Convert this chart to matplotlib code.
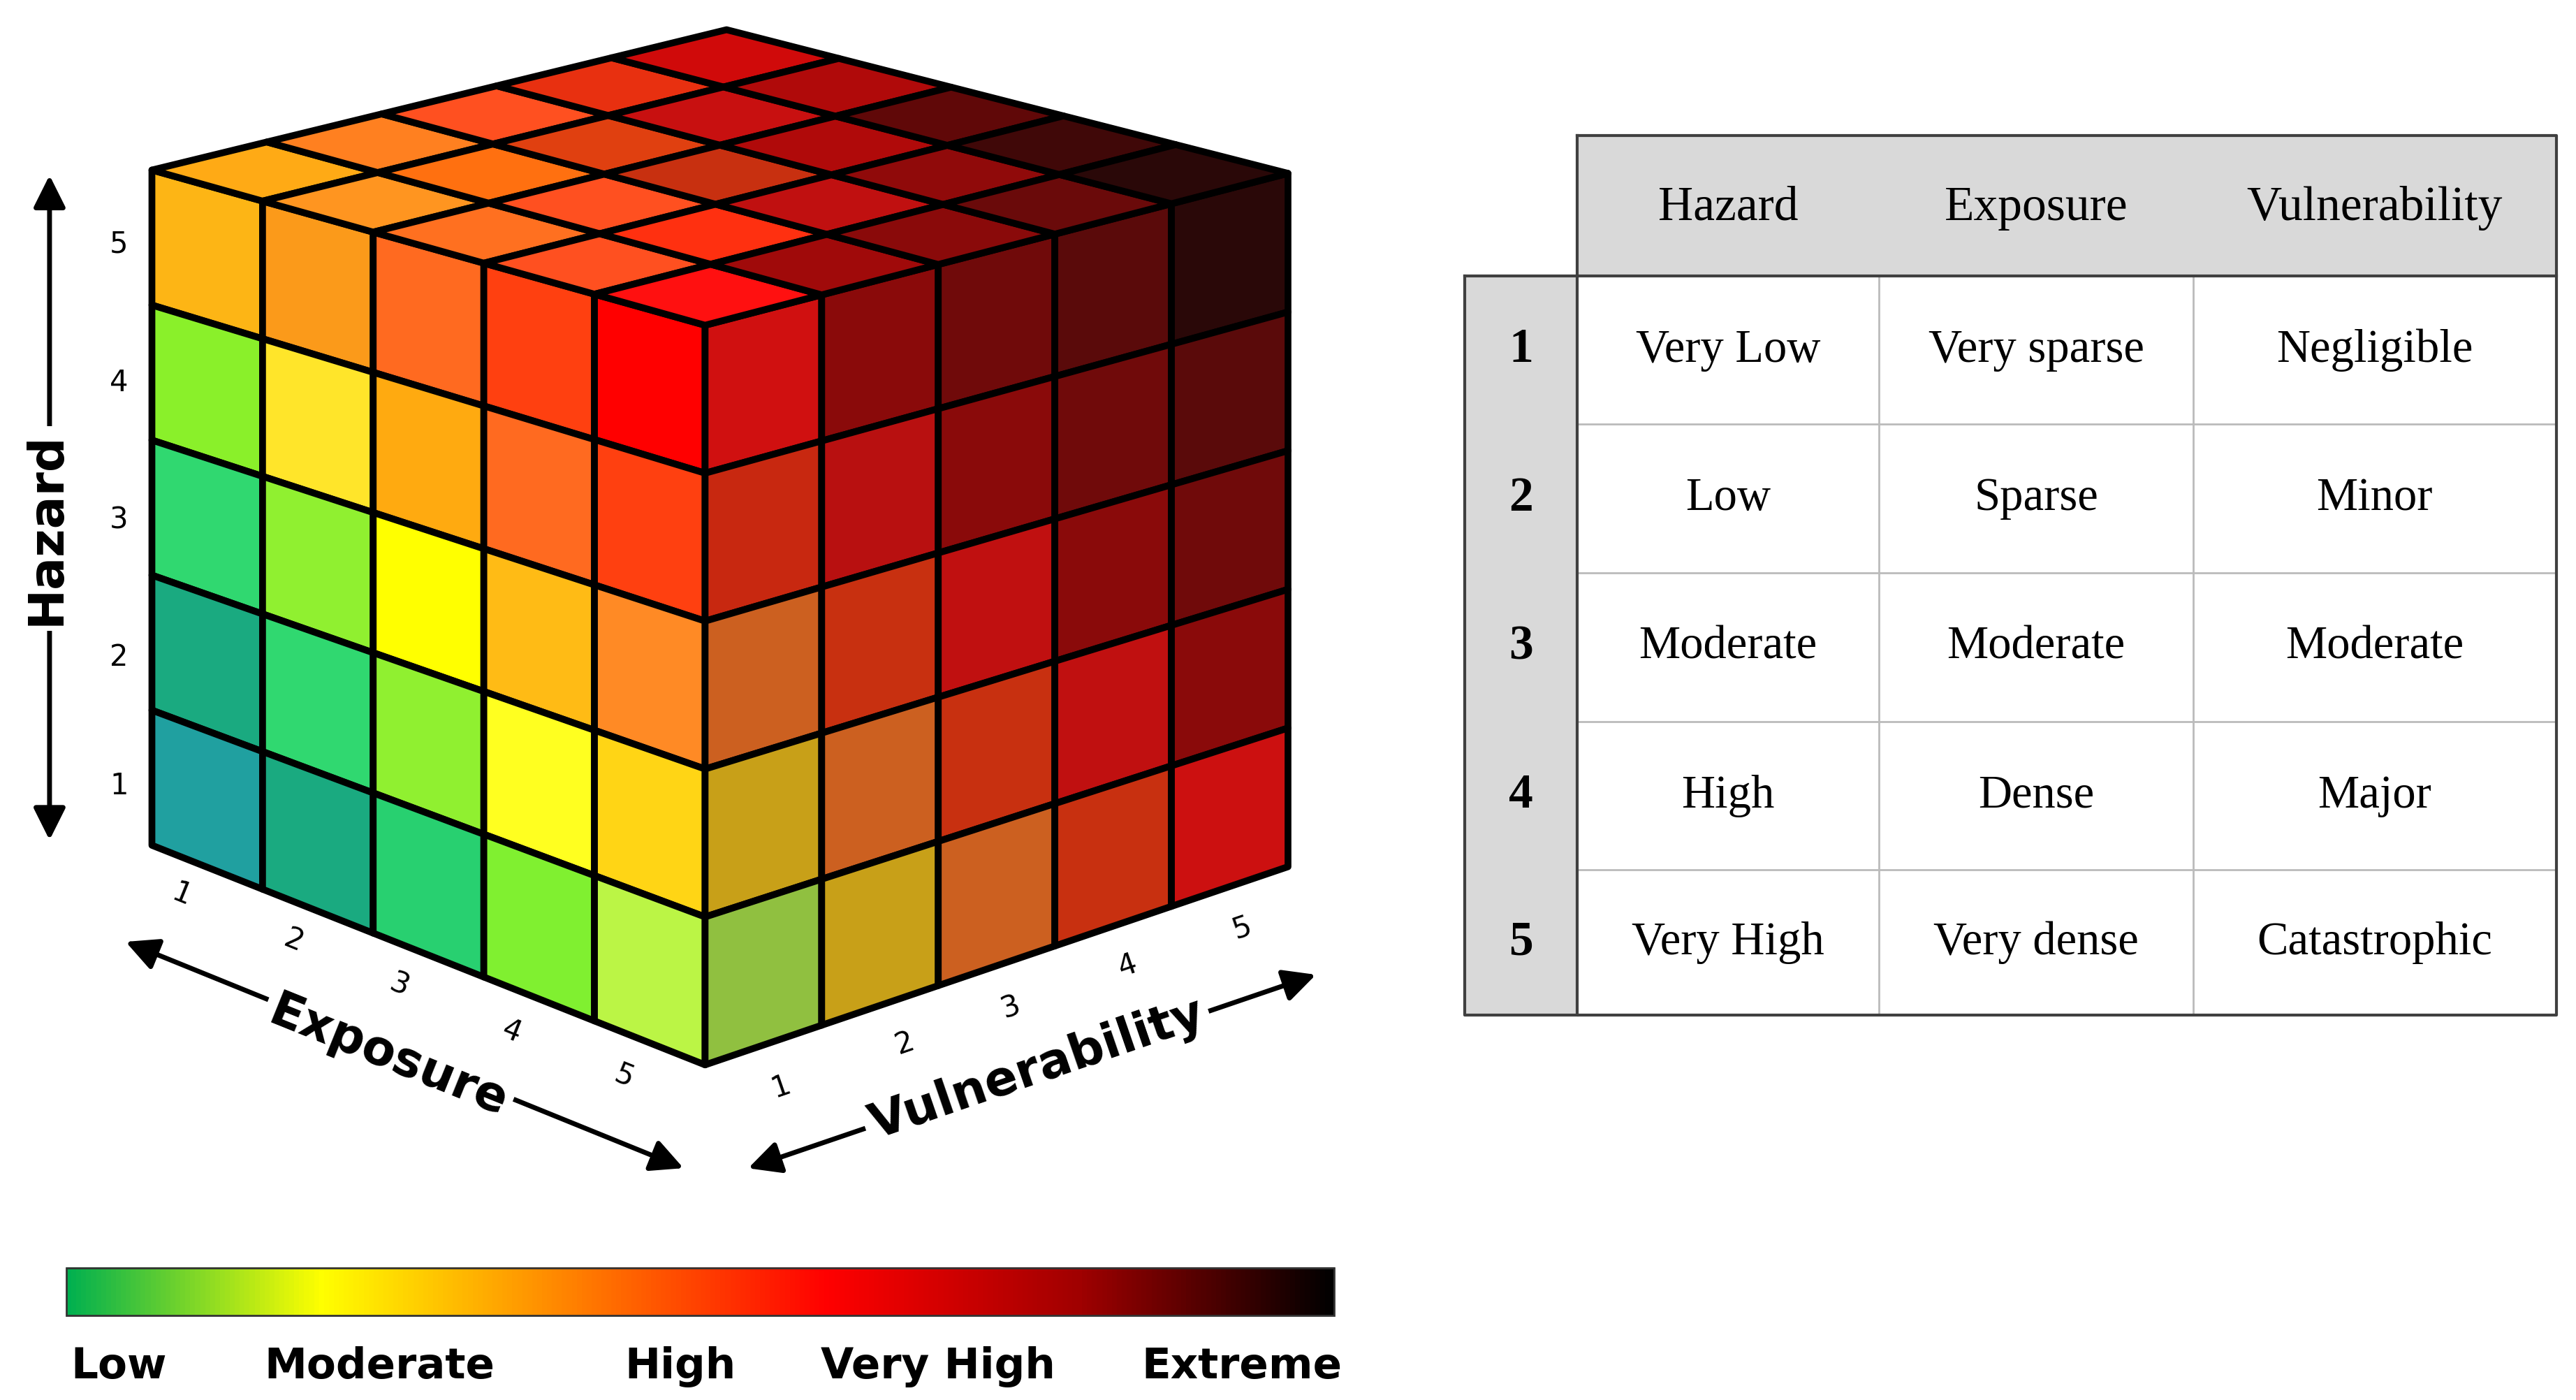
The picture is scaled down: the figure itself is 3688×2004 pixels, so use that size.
import numpy as np
import matplotlib
matplotlib.use("Agg")
import matplotlib.pyplot as plt
from matplotlib.patches import Polygon, Rectangle, FancyArrowPatch
from matplotlib.colors import LinearSegmentedColormap

# ---- data ----
levels = [1, 2, 3, 4, 5]
# left face: rows hazard 5..1, cols exposure 1..5 (vulnerability = 1)
left_face = [
    ["#FDB515", "#FB9A1A", "#FF6A20", "#FF4010", "#FF0000"],
    ["#8AF02A", "#FFE52A", "#FFAA10", "#FF6A20", "#FF4010"],
    ["#30D870", "#90F030", "#FFFF00", "#FFBB15", "#FF8A25"],
    ["#1AAA80", "#30D870", "#90F030", "#FFFF20", "#FFD515"],
    ["#20A0A0", "#1AAA80", "#28D070", "#80F030", "#BBF545"],
]
# right face: rows hazard 5..1, cols vulnerability 1..5 (exposure = 5)
right_face = [
    ["#D01010", "#8A0A0A", "#700A0A", "#5A0A0A", "#2A0808"],
    ["#C82810", "#B81010", "#8A0A0A", "#700A0A", "#5A0A0A"],
    ["#CC6020", "#C83010", "#C01010", "#8A0A0A", "#700A0A"],
    ["#C8A018", "#CC6020", "#C83010", "#C01010", "#8A0A0A"],
    ["#90C040", "#C8A018", "#CC6020", "#C83010", "#CC1010"],
]
# top face: rows exposure 1..5, cols vulnerability 1..5 (hazard = 5)
top_face = [
    ["#FFAA15", "#FF8020", "#FF5020", "#E83010", "#D00A0A"],
    ["#FF9520", "#FF7010", "#E04010", "#C81010", "#B00A0A"],
    ["#FF7020", "#FF5020", "#C83010", "#B00A0A", "#600808"],
    ["#FF5020", "#FF3010", "#C01010", "#900A0A", "#400808"],
    ["#FF1010", "#A00A0A", "#8A0A0A", "#6A0A0A", "#2A0808"],
]
scale_labels = ["Low", "Moderate", "High", "Very High", "Extreme"]
scale_colors = ["#00B050", "#FFFF00", "#FF8000", "#FF0000", "#A00000", "#000000"]
table_header = ["Hazard", "Exposure", "Vulnerability"]
table_rows = [
    ["Very Low", "Very sparse", "Negligible"],
    ["Low", "Sparse", "Minor"],
    ["Moderate", "Moderate", "Moderate"],
    ["High", "Dense", "Major"],
    ["Very High", "Very dense", "Catastrophic"],
]

fig = plt.figure(figsize=(36.88, 20.04), dpi=100)
ax = fig.add_axes([0, 0, 1, 1])
ax.set_xlim(0, 1560); ax.set_ylim(848, 0); ax.axis("off")

def bil(q, u, v):
    # q: (tl, tr, br, bl); u along left->right, v along top->bottom
    tl, tr, br, bl = [np.array(p, float) for p in q]
    top = tl + (tr - tl) * u
    bot = bl + (br - bl) * u
    return top + (bot - top) * v

def draw_face(q, colors):
    n = len(colors)
    for r in range(n):
        for c in range(len(colors[r])):
            pts = [bil(q, c / 5, r / 5), bil(q, (c + 1) / 5, r / 5),
                   bil(q, (c + 1) / 5, (r + 1) / 5), bil(q, c / 5, (r + 1) / 5)]
            ax.add_patch(Polygon(pts, closed=True, facecolor=colors[r][c],
                                 edgecolor="black", lw=7, joinstyle="round"))

A = (92, 103); B = (427, 197); C = (780, 105); D = (440, 18)
E = (92, 512); F = (427, 645); G = (780, 525)
draw_face((A, B, F, E), left_face)
draw_face((B, C, G, F), right_face)
# top: tl=A(E1,V1?) -> arrange rows exposure 1..5 from A-D edge to B-C edge
# quad: tl = D-side? rows along A->B direction, cols along A->D direction
top_q = (A, D, C, B)  # u along A->D (vulnerability), v along A->B (exposure)
draw_face(top_q, top_face)

# axes arrows
def arrow(p0, p1):
    ax.add_patch(FancyArrowPatch(p0, p1, arrowstyle="<|-|>", mutation_scale=70,
                                 lw=5, color="black"))
arrow((30, 105), (30, 510))
ax.text(28, 320, "Hazard", rotation=90, ha="center", va="center", fontsize=50,
        fontweight="bold", bbox=dict(facecolor="white", edgecolor="none", pad=6))
for lv, y in zip(levels, [476, 398, 315, 232, 148]):
    ax.text(72, y, str(lv), ha="center", va="center", fontsize=30)

arrow((75, 570), (415, 708))
ax.text(235, 640, "Exposure", rotation=-22, ha="center", va="center", fontsize=50,
        fontweight="bold", bbox=dict(facecolor="white", edgecolor="none", pad=6))
for lv, (x, y) in zip(levels, [(110, 542), (178, 570), (242, 597), (310, 625), (378, 652)]):
    ax.text(x, y, str(lv), ha="center", va="center", fontsize=30, rotation=-22)

arrow((452, 708), (798, 590))
ax.text(628, 648, "Vulnerability", rotation=19, ha="center", va="center", fontsize=50,
        fontweight="bold", bbox=dict(facecolor="white", edgecolor="none", pad=6))
for lv, (x, y) in zip(levels, [(473, 658), (548, 632), (612, 610), (683, 585), (752, 562)]):
    ax.text(x, y, str(lv), ha="center", va="center", fontsize=30, rotation=19)

# colour bar
cmap = LinearSegmentedColormap.from_list("risk", scale_colors)
grad = np.linspace(0, 1, 512)[None, :]
ax.imshow(grad, cmap=cmap, extent=(40, 808, 797, 768), aspect="auto", zorder=2)
ax.add_patch(Rectangle((40, 768), 768, 29, fill=False, edgecolor="#333333", lw=2, zorder=3))
for lab, x in zip(scale_labels, [72, 230, 412, 568, 752]):
    ax.text(x, 828, lab, ha="center", va="center", fontsize=44, fontweight="bold")

# table
cols = [955, 1138, 1328, 1548]
rows = [167, 257, 347, 437, 527, 615]
ax.add_patch(Rectangle((955, 82), 593, 85, facecolor="#D9D9D9", edgecolor="none"))
ax.add_patch(Rectangle((887, 167), 68, 448, facecolor="#D9D9D9", edgecolor="none"))
for x in cols[1:-1]:
    ax.plot([x, x], [167, 615], color="#BBBBBB", lw=2)
for y in rows[1:-1]:
    ax.plot([955, 1548], [y, y], color="#BBBBBB", lw=2)
for x in cols[1:-1]:
    ax.plot([x, x], [82, 167], color="#D9D9D9", lw=2)
dk = "#404040"
ax.plot([955, 1548, 1548, 955, 955], [82, 82, 615, 615, 82], color=dk, lw=3)
ax.plot([887, 955], [167, 167], color=dk, lw=3)
ax.plot([887, 887, 955], [167, 615, 615], color=dk, lw=3)
ax.plot([955, 1548], [167, 167], color=dk, lw=3)
serif = ["Liberation Serif", "DejaVu Serif"]
for h, x0, x1 in zip(table_header, cols[:-1], cols[1:]):
    ax.text((x0 + x1) / 2, 126, h, ha="center", va="center", fontsize=50, family=serif)
for i, row in enumerate(table_rows):
    yc = (rows[i] + rows[i + 1]) / 2
    ax.text(921, yc, str(levels[i]), ha="center", va="center", fontsize=50, family=serif, fontweight="bold")
    for txt, x0, x1 in zip(row, cols[:-1], cols[1:]):
        ax.text((x0 + x1) / 2, yc, txt, ha="center", va="center", fontsize=48, family=serif)

fig.savefig("out.png", dpi=100, facecolor="white")
